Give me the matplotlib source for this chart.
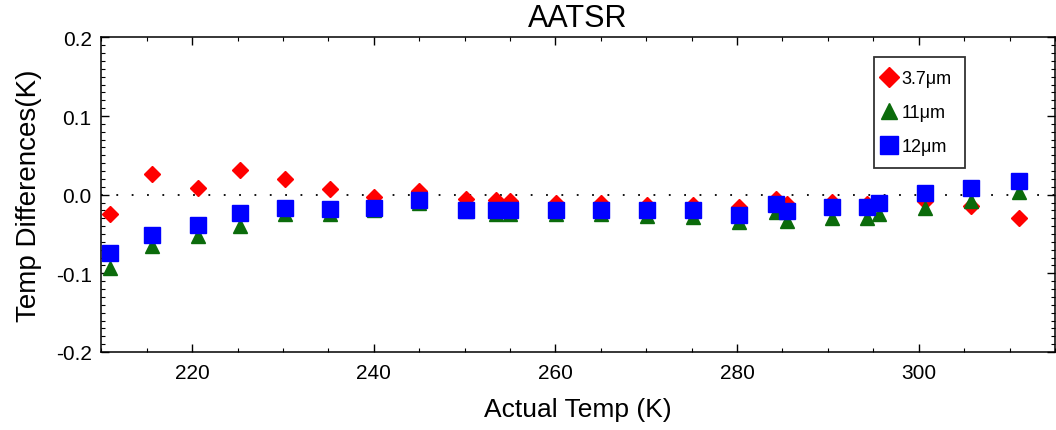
import numpy as np
import matplotlib
matplotlib.use("Agg")
import matplotlib.pyplot as plt
from matplotlib.ticker import MultipleLocator

plt.rcParams['font.family'] = ['Liberation Sans', 'DejaVu Sans']

# --- data ---
temps = [211.0, 215.6, 220.6, 225.3, 230.2, 235.2, 240.0, 245.0, 250.1, 253.5,
         255.0, 260.1, 265.0, 270.1, 275.1, 280.2, 284.3, 285.5, 290.4, 294.3,
         295.6, 300.7, 305.8, 311.0]
diff_37 = [-0.025, 0.026, 0.009, 0.031, 0.020, 0.007, -0.003, 0.005, -0.006, -0.007,
           -0.008, -0.010, -0.011, -0.013, -0.013, -0.016, -0.005, -0.012, -0.009, -0.012,
           -0.010, -0.008, -0.015, -0.030]
diff_11 = [-0.093, -0.065, -0.053, -0.040, -0.025, -0.024, -0.019, -0.010, -0.021, -0.025,
           -0.025, -0.024, -0.024, -0.027, -0.029, -0.035, -0.022, -0.034, -0.030, -0.030,
           -0.025, -0.017, -0.008, 0.003]
diff_12 = [-0.074, -0.051, -0.038, -0.023, -0.017, -0.018, -0.017, -0.007, -0.019, -0.019,
           -0.020, -0.019, -0.020, -0.020, -0.020, -0.026, -0.012, -0.021, -0.016, -0.016,
           -0.010, 0.002, 0.008, 0.018]
y_ticks = [-0.2, -0.1, 0.0, 0.1, 0.2]
y_tick_labels = ["-0.2", "-0.1", "0.0", "0.1", "0.2"]

fig = plt.figure(figsize=(10.56, 4.31), dpi=100)
ax = fig.add_axes([0.096, 0.181, 0.903, 0.730])

# zero reference line
ax.axhline(0, color='black', linestyle=(0, (1, 7.5)), linewidth=1.3, zorder=1)

ax.plot(temps, diff_37, linestyle='none', marker='D', markersize=8.5,
        color='#ff0000', markeredgecolor='#ff0000', label="3.7μm", zorder=3)
ax.plot(temps, diff_11, linestyle='none', marker='^', markersize=9.5,
        color='#0b6b0b', markeredgecolor='#0b6b0b', label="11μm", zorder=4)
ax.plot(temps, diff_12, linestyle='none', marker='s', markersize=11,
        color='#0000ff', markeredgecolor='#0000ff', label="12μm", zorder=5)

ax.set_xlim(210, 315)
ax.set_ylim(-0.2, 0.2)
ax.xaxis.set_major_locator(MultipleLocator(20))
ax.xaxis.set_minor_locator(MultipleLocator(5))
ax.set_yticks(y_ticks)
ax.set_yticklabels(y_tick_labels)
ax.yaxis.set_minor_locator(MultipleLocator(0.01))
ax.tick_params(which='both', direction='in', top=True, right=True, labelsize=15)
ax.tick_params(which='major', length=6, width=1)
ax.tick_params(which='minor', length=3, width=0.8)
ax.tick_params(axis='x', pad=8)
ax.tick_params(axis='y', pad=7)
for sp in ax.spines.values():
    sp.set_linewidth(1.1)

ax.set_title("AATSR", fontsize=22, pad=8)
ax.set_xlabel("Actual Temp (K)", fontsize=19, labelpad=11)
ax.set_ylabel("Temp Differences(K)", fontsize=20, labelpad=10)

leg = ax.legend(loc='upper left', bbox_to_anchor=(0.810, 0.937), fontsize=13,
                frameon=True, fancybox=False, edgecolor='black', markerscale=1.15,
                handletextpad=0.55, handlelength=0.3, borderpad=0.7,
                labelspacing=0.95, borderaxespad=0)
leg.get_frame().set_linewidth(1.3)

fig.savefig("out.png", dpi=100)
